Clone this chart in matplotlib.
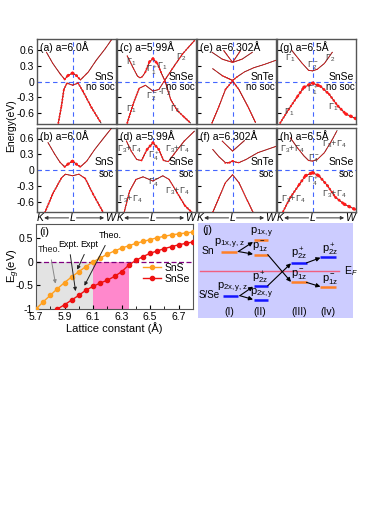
import matplotlib.pyplot as plt
import numpy as np
from matplotlib.collections import LineCollection

plt.rcParams['font.family'] = ['Liberation Sans', 'DejaVu Sans']
plt.rcParams['mathtext.fontset'] = 'custom'
plt.rcParams['mathtext.rm'] = 'Liberation Sans'
plt.rcParams['mathtext.it'] = 'Liberation Sans:italic'

KL = 0.45  # position of L between K (0) and W (1)

# ---- band data: k (0..1), E (eV), red weight ----
# (a) SnS a=6.0 no soc
a_c_k = [0.12, 0.20, 0.29, 0.35, 0.39, 0.45, 0.50, 0.55, 0.65, 0.75, 0.86, 0.94]
a_c_E = [0.55, 0.34, 0.15, 0.04, 0.11, 0.16, 0.11, 0.03, 0.18, 0.40, 0.61, 0.78]
a_c_w = [1.2, 1.2, 1.2, 2, 3.5, 4, 3.5, 2, 1.2, 1.2, 1.2, 1.2]
a_v_k = [0.27, 0.31, 0.34, 0.38, 0.45, 0.52, 0.58, 0.69, 0.81]
a_v_E = [-0.78, -0.46, -0.15, -0.03, -0.07, -0.03, -0.18, -0.49, -0.78]
a_v_w = [2.5, 2.5, 2.5, 2, 1.2, 2, 2.5, 2.5, 2.5]
# (b) SnS a=6.0 soc
b_c_k = [0.14, 0.225, 0.29, 0.35, 0.39, 0.45, 0.50, 0.55, 0.63, 0.73, 0.86, 0.94]
b_c_E = [0.52, 0.30, 0.15, 0.06, 0.11, 0.17, 0.11, 0.06, 0.17, 0.39, 0.64, 0.79]
b_c_w = [1.2, 1.2, 1.2, 2, 3.5, 4, 3.5, 2, 1.2, 1.2, 1.2, 1.2]
b_v_k = [0.10, 0.20, 0.31, 0.36, 0.45, 0.53, 0.61, 0.71, 0.85]
b_v_E = [-0.81, -0.45, -0.15, -0.08, -0.11, -0.08, -0.16, -0.46, -0.84]
b_v_w = [2.5, 2.5, 2, 1.5, 1.2, 1.5, 2, 2.5, 2.5]
# (c) SnSe a=5.99 no soc
c_c_k = [0.13, 0.21, 0.26, 0.29, 0.32, 0.36, 0.41, 0.455, 0.51, 0.57, 0.61, 0.68, 0.76, 0.85, 0.93]
c_c_E = [0.48, 0.24, 0.10, 0.07, 0.09, 0.18, 0.37, 0.43, 0.34, 0.13, 0.0, -0.34, -0.54, -0.67, -0.78]
c_c_w = [1.5, 1.5, 1.5, 1.5, 1.5, 2, 3, 4, 3, 2, 1.5, 2, 2, 2.5, 2.5]
c_v_k = [0.13, 0.21, 0.28, 0.36, 0.455, 0.53, 0.59, 0.70, 0.83, 0.98]
c_v_E = [-0.78, -0.40, -0.13, -0.07, -0.18, -0.15, -0.01, 0.24, 0.52, 0.77]
c_v_w = [2.5, 2.5, 2, 1.2, 1.2, 1.2, 1.5, 2, 2, 2]
# (d) SnSe a=5.99 soc
d_c_k = [0.12, 0.18, 0.25, 0.31, 0.38, 0.455, 0.53, 0.59, 0.65, 0.72, 0.85, 0.98]
d_c_E = [0.55, 0.36, 0.20, 0.18, 0.39, 0.52, 0.39, 0.18, 0.16, 0.30, 0.55, 0.74]
d_c_w = [1.5, 1.5, 1.5, 1.5, 3, 4, 3, 1.5, 1.5, 1.5, 1.5, 1.2]
d_v_k = [0.09, 0.16, 0.24, 0.33, 0.455, 0.58, 0.66, 0.76, 0.86, 0.97]
d_v_E = [-0.81, -0.40, -0.18, -0.13, -0.21, -0.11, -0.18, -0.43, -0.68, -0.84]
d_v_w = [2, 2, 1.5, 1.2, 1.2, 1.2, 1.5, 2, 2.5, 3]
# (e) SnTe a=6.302 no soc
e_c_k = [0.20, 0.32, 0.45, 0.51, 0.60, 0.72, 0.85, 1.0]
e_c_E = [0.24, 0.11, 0.02, 0.09, 0.18, 0.26, 0.32, 0.40]
e_c_w = [1.2, 1.2, 3, 1.2, 1.2, 1.2, 1.2, 1.2]
e_v_k = [0.19, 0.28, 0.36, 0.45, 0.53, 0.64, 0.74]
e_v_E = [-0.78, -0.46, -0.15, 0.01, -0.15, -0.46, -0.77]
e_v_w = [2, 2, 1.5, 3, 1.5, 2, 2]
e_p_k = [0.19, 0.32, 0.45, 0.57, 0.70]
e_p_E = [0.55, 0.42, 0.36, 0.42, 0.55]
e_p_w = [1, 1, 2, 1, 1]
e_x_k = [0.34, 0.45, 0.55]
e_x_E = [0.58, 0.36, 0.58]
e_x_w = [1, 2, 1]
# (f) SnTe a=6.302 soc
f_c_k = [0.20, 0.28, 0.36, 0.41, 0.45, 0.49, 0.53, 0.62, 0.77, 1.0]
f_c_E = [0.39, 0.25, 0.14, 0.14, 0.17, 0.15, 0.14, 0.20, 0.33, 0.45]
f_c_w = [1.2, 1.2, 1.5, 2.5, 3, 2.5, 1.5, 1.2, 1.2, 1.2]
f_v_k = [0.19, 0.28, 0.36, 0.45, 0.53, 0.64, 0.72]
f_v_E = [-0.84, -0.52, -0.24, -0.09, -0.24, -0.59, -0.84]
f_v_w = [2, 2, 1.5, 1.2, 1.5, 2, 2]
f_x_k = [0.32, 0.45, 0.60]
f_x_E = [0.55, 0.36, 0.56]
f_x_w = [1, 1.5, 1]
# (g) SnSe a=6.5 no soc
g_c_k = [0.19, 0.26, 0.32, 0.40, 0.45, 0.51, 0.60, 0.70]
g_c_E = [0.58, 0.45, 0.34, 0.21, 0.20, 0.23, 0.34, 0.55]
g_c_w = [1.2, 1.2, 1.2, 1.2, 1.5, 1.2, 1.2, 1.2]
g_v_k = [0.04, 0.15, 0.26, 0.34, 0.45, 0.55, 0.66, 0.77, 0.87, 1.0]
g_v_E = [-0.78, -0.52, -0.28, -0.11, -0.03, -0.09, -0.24, -0.46, -0.61, -0.70]
g_v_w = [2.5, 2.5, 3, 4, 4.5, 4, 3, 3, 4, 4.5]
# (h) SnSe a=6.5 soc
h_c_k = [0.17, 0.26, 0.34, 0.40, 0.45, 0.51, 0.60, 0.70, 0.76]
h_c_E = [0.61, 0.42, 0.27, 0.18, 0.17, 0.20, 0.33, 0.58, 0.75]
h_c_w = [1.2, 1.2, 1.2, 1.2, 1.5, 1.2, 1.2, 1.2, 1.2]
h_v_k = [0.06, 0.17, 0.28, 0.36, 0.45, 0.53, 0.64, 0.74, 0.85, 1.0]
h_v_E = [-0.84, -0.52, -0.28, -0.11, -0.05, -0.11, -0.30, -0.52, -0.65, -0.76]
h_v_w = [2.5, 2.5, 3, 4, 4.5, 4, 3, 3, 4, 4.5]

# ---- band gap vs lattice constant ----
sns_a = [5.70, 5.75, 5.80, 5.85, 5.90, 5.95, 6.00, 6.05, 6.10, 6.15, 6.20, 6.25,
         6.30, 6.35, 6.40, 6.45, 6.50, 6.55, 6.60, 6.65, 6.70, 6.75, 6.80]
sns_eg = [-1.00, -0.85, -0.71, -0.57, -0.44, -0.32, -0.21, -0.10, 0.00, 0.08, 0.16, 0.23,
          0.29, 0.34, 0.39, 0.43, 0.47, 0.51, 0.54, 0.57, 0.59, 0.61, 0.63]
snse_a = [5.85, 5.90, 5.95, 6.00, 6.05, 6.10, 6.15, 6.20, 6.25, 6.30, 6.35, 6.40,
          6.45, 6.50, 6.55, 6.60, 6.65, 6.70, 6.75, 6.80]
snse_eg = [-1.00, -0.91, -0.81, -0.71, -0.60, -0.52, -0.45, -0.39, -0.31, -0.21, -0.07, 0.03,
           0.11, 0.18, 0.23, 0.28, 0.32, 0.36, 0.39, 0.42]

panels = [
    ('(a) a=6.0Å', 'SnS', 'no soc', [(a_c_k, a_c_E, a_c_w), (a_v_k, a_v_E, a_v_w)]),
    ('(c) a=5.99Å', 'SnSe', 'no soc', [(c_c_k, c_c_E, c_c_w), (c_v_k, c_v_E, c_v_w)]),
    ('(e) a=6.302Å', 'SnTe', 'no soc', [(e_p_k, e_p_E, e_p_w), (e_x_k, e_x_E, e_x_w),
                                       (e_c_k, e_c_E, e_c_w), (e_v_k, e_v_E, e_v_w)]),
    ('(g) a=6.5Å', 'SnSe', 'no soc', [(g_c_k, g_c_E, g_c_w), (g_v_k, g_v_E, g_v_w)]),
    ('(b) a=6.0Å', 'SnS', 'soc', [(b_c_k, b_c_E, b_c_w), (b_v_k, b_v_E, b_v_w)]),
    ('(d) a=5.99Å', 'SnSe', 'soc', [(d_c_k, d_c_E, d_c_w), (d_v_k, d_v_E, d_v_w)]),
    ('(f) a=6.302Å', 'SnTe', 'soc', [(f_x_k, f_x_E, f_x_w), (f_c_k, f_c_E, f_c_w),
                                    (f_v_k, f_v_E, f_v_w)]),
    ('(h) a=6.5Å', 'SnSe', 'soc', [(h_c_k, h_c_E, h_c_w), (h_v_k, h_v_E, h_v_w)]),
]

gam_labels = {
    1: [(0.185, 0.37, r'$\Gamma_1$'), (0.44, 0.21, r'$\Gamma_1^+$'), (0.57, 0.28, r'$\Gamma_1$'),
        (0.81, 0.46, r'$\Gamma_2$'), (0.44, -0.28, r'$\Gamma_2^-$'), (0.60, -0.21, r'-$\Gamma_2$'),
        (0.185, -0.52, r'$\Gamma_1$'), (0.74, -0.52, r'$\Gamma_1$')],
    3: [(0.17, 0.43, r'$\Gamma_1$'), (0.45, 0.30, r'$\Gamma_2^-$'), (0.67, 0.43, r'$\Gamma_2$'),
        (0.45, -0.15, r'$\Gamma_1^+$'), (0.15, -0.58, r'$\Gamma_1$'), (0.71, -0.49, r'$\Gamma_1$')],
    5: [(0.15, 0.39, r'$\Gamma_3$+$\Gamma_4$'), (0.46, 0.27, r'$\Gamma_4^+$'),
        (0.76, 0.39, r'$\Gamma_3$+$\Gamma_4$'), (0.46, -0.25, r'$\Gamma_4^-$'),
        (0.17, -0.56, r'$\Gamma_3$+$\Gamma_4$'), (0.76, -0.40, r'$\Gamma_3$+$\Gamma_4$')],
    7: [(0.19, 0.39, r'$\Gamma_3$+$\Gamma_4$'), (0.72, 0.49, r'$\Gamma_3$+$\Gamma_4$'),
        (0.46, 0.21, r'$\Gamma_4^-$'), (0.45, -0.21, r'$\Gamma_4^+$'),
        (0.73, -0.46, r'$\Gamma_3$+$\Gamma_4$'), (0.21, -0.56, r'$\Gamma_3$+$\Gamma_4$')],
}

fig = plt.figure(figsize=(3.74, 5.28), dpi=100)

lefts = [37, 117, 197, 277]
W, H = 374, 528


def draw_band(ax, k, E, w):
    ax.plot(k, E, color='#3a1010', lw=0.6, zorder=3)
    pts = np.column_stack([k, E])
    segs = np.stack([pts[:-1], pts[1:]], axis=1)
    lws = [0.55 * (w[i] + w[i + 1]) / 2 for i in range(len(w) - 1)]
    lc = LineCollection(segs, colors='#ff1a1a', linewidths=lws,
                        linestyles=[(0, (0.3, 1.3))], capstyle='round', zorder=4)
    ax.add_collection(lc)


for i, (title, mat, soc, bands) in enumerate(panels):
    row, col = divmod(i, 4)
    top = 39 if row == 0 else 128
    bot = 124 if row == 0 else 212
    ax = fig.add_axes([lefts[col] / W, 1 - bot / H, 79 / W, (bot - top) / H])
    ax.set_xlim(0, 1)
    ax.set_ylim(-0.8, 0.8)
    ax.axvline(KL, color='#4466ff', ls=(0, (4, 3)), lw=0.8, zorder=2)
    ax.axhline(0, color='#4466ff', ls=(0, (4, 3)), lw=0.8, zorder=2)
    for k, E, w in bands:
        draw_band(ax, k, E, w)
    ax.set_xticks([])
    ax.set_yticks([-0.6, -0.3, 0, 0.3, 0.6])
    ax.tick_params(axis='y', direction='in', length=3, width=0.8, labelsize=7.5, pad=2)
    if col == 0:
        ax.set_yticklabels(['-0.6', '-0.3', '0', '0.3', '0.6'])
    else:
        ax.set_yticklabels([])
    for s in ax.spines.values():
        s.set_color('#555555')
        s.set_linewidth(1.0)
    ax.text(0.04, 0.97, title, transform=ax.transAxes, va='top', ha='left', fontsize=7.5)
    ax.text(0.98, 0.55 if row == 0 else 0.60, mat, transform=ax.transAxes,
            ha='right', va='center', fontsize=7.5, zorder=6)
    ax.text(0.98, 0.44 if row == 0 else 0.45, soc, transform=ax.transAxes,
            ha='right', va='center', fontsize=7, zorder=6)
    for x, y, t in gam_labels.get(i, []):
        ax.text(x, y, t, ha='center', va='center', fontsize=6.5, color='#444444', zorder=6)
    if row == 1:
        ax.text(0.04, -0.07, 'K', transform=ax.transAxes, ha='center', va='center',
                fontsize=7.5, style='italic')
        ax.text(KL, -0.07, 'L', transform=ax.transAxes, ha='center', va='center',
                fontsize=7.5, style='italic')
        ax.text(0.92, -0.07, 'W', transform=ax.transAxes, ha='center', va='center',
                fontsize=7.5, style='italic')
        ax.annotate('', xy=(0.09, -0.07), xytext=(KL - 0.05, -0.07), xycoords='axes fraction',
                    arrowprops=dict(arrowstyle='-|>', lw=0.7, color='#333', mutation_scale=5,
                                    shrinkA=0, shrinkB=0))
        ax.annotate('', xy=(0.85, -0.07), xytext=(KL + 0.05, -0.07), xycoords='axes fraction',
                    arrowprops=dict(arrowstyle='-|>', lw=0.7, color='#333', mutation_scale=5,
                                    shrinkA=0, shrinkB=0))

fig.text(0.03, 1 - 126 / H, 'Energy(eV)', rotation=90, ha='center', va='center', fontsize=7.5)

# ---- panel (i) ----
axi = fig.add_axes([36 / W, 1 - 309 / H, 157 / W, 85 / H])
axi.axvspan(5.7, 6.1, ymin=0, ymax=1 / 1.8, color='#e3e3e3', lw=0, zorder=0)
axi.axvspan(6.1, 6.35, ymin=0, ymax=1 / 1.8, color='#ff88cc', lw=0, zorder=0)
axi.axhline(0, color='#800080', ls=(0, (4, 2)), lw=0.9, zorder=1)
axi.plot(sns_a, sns_eg, '-o', color='#ffa020', ms=3, lw=1, label='SnS', zorder=3)
axi.plot(snse_a, snse_eg, '-o', color='#ee1111', ms=3, lw=1, label='SnSe', zorder=3)
axi.set_xlim(5.7, 6.8)
axi.set_ylim(-1, 0.8)
axi.set_xticks([5.7, 5.9, 6.1, 6.3, 6.5, 6.7])
axi.set_xticks(np.arange(5.8, 6.8, 0.2), minor=True)
axi.set_yticks([-1, -0.5, 0, 0.5])
axi.set_yticklabels(['-1', '-0.5', '0', '0.5'])
axi.tick_params(direction='in', labelsize=7.5, length=3, pad=2)
axi.tick_params(which='minor', direction='in', length=2)
axi.set_xlabel('Lattice constant (Å)', fontsize=8, labelpad=0)
for s in axi.spines.values():
    s.set_color('#555555')
fig.text(14 / W, 1 - 266 / H, 'E$_g$(eV)', rotation=90, ha='center', va='center', fontsize=8)
axi.text(0.02, 0.97, '(i)', transform=axi.transAxes, va='top', fontsize=8)
arr = dict(arrowstyle='-|>', lw=0.7, mutation_scale=5)
axi.annotate('Theo.', xy=(5.84, -0.52), xytext=(5.795, 0.20), fontsize=6.5, ha='center',
             color='#222', arrowprops=dict(arr, color='#888888'))
axi.annotate('Expt.', xy=(5.98, -0.68), xytext=(5.93, 0.31), fontsize=6.5, ha='center',
             arrowprops=dict(arr, color='#222'))
axi.annotate('Expt', xy=(5.98, -0.22), xytext=(6.07, 0.31), fontsize=6.5, ha='center',
             arrowprops=dict(arr, color='#222'))
axi.annotate('Theo.', xy=(6.03, -0.56), xytext=(6.22, 0.50), fontsize=6.5, ha='center',
             arrowprops=dict(arr, color='#222'))
axi.legend(loc='center right', bbox_to_anchor=(1.02, 0.42), fontsize=7.5, frameon=False,
           handlelength=1.8, borderaxespad=0.2, labelspacing=0.1, handletextpad=0.3)

# ---- panel (j) ----
axj = fig.add_axes([198 / W, 1 - 318 / H, 155 / W, 95 / H])
axj.set_facecolor('#ccccff')
axj.set_xlim(0, 1)
axj.set_ylim(0, 1)
axj.set_xticks([])
axj.set_yticks([])
for s in axj.spines.values():
    s.set_visible(False)
OR, BL = '#ff7f27', '#1414ff'
levels = [
    (0.15, 0.25, 0.70, OR, r'$\mathregular{p_{1x,y,z}}$', 0.20, 0.78),
    (0.16, 0.26, 0.235, BL, r'$\mathregular{p_{2x,y,z}}$', 0.22, 0.32),
    (0.36, 0.45, 0.82, OR, r'$\mathregular{p_{1x,y}}$', 0.41, 0.90),
    (0.36, 0.45, 0.667, OR, r'$\mathregular{p^-_{1z}}$', 0.40, 0.75),
    (0.36, 0.45, 0.34, BL, r'$\mathregular{p^+_{2z}}$', 0.40, 0.42),
    (0.36, 0.45, 0.19, BL, r'$\mathregular{p_{2x,y}}$', 0.41, 0.255),
    (0.60, 0.70, 0.58, BL, r'$\mathregular{p^+_{2z}}$', 0.65, 0.67),
    (0.60, 0.70, 0.375, OR, r'$\mathregular{p^-_{1z}}$', 0.65, 0.45),
    (0.79, 0.89, 0.64, BL, r'$\mathregular{p^+_{2z}}$', 0.85, 0.72),
    (0.79, 0.89, 0.326, OR, r'$\mathregular{p^-_{1z}}$', 0.85, 0.40),
]
for x0, x1, y, c, lab, lx, ly in levels:
    axj.plot([x0, x1], [y, y], color=c, lw=1.8, solid_capstyle='butt')
    axj.text(lx, ly, lab, ha='center', va='center', fontsize=8)
arrows = [((0.26, 0.70), (0.355, 0.80)), ((0.26, 0.70), (0.355, 0.672)),
          ((0.27, 0.235), (0.355, 0.33)), ((0.27, 0.235), (0.355, 0.195)),
          ((0.45, 0.667), (0.60, 0.38)), ((0.45, 0.34), (0.60, 0.575)),
          ((0.70, 0.58), (0.79, 0.635)), ((0.70, 0.375), (0.79, 0.33))]
for (xs, ys), (xe, ye) in arrows:
    axj.annotate('', xy=(xe, ye), xytext=(xs, ys),
                 arrowprops=dict(arrowstyle='-|>', lw=0.8, color='k', mutation_scale=6,
                                 shrinkA=0, shrinkB=0))
axj.plot([0.01, 0.91], [0.5, 0.5], color='#f06080', lw=1.0)
axj.text(0.94, 0.49, 'E$_F$', fontsize=7.5, va='center')
axj.text(0.03, 0.93, '(j)', fontsize=8, va='center')
axj.text(0.02, 0.70, 'Sn', fontsize=7.5, va='center')
axj.text(0.005, 0.245, 'S/Se', fontsize=7, va='center')
for x, t in [(0.20, '(I)'), (0.40, '(II)'), (0.65, '(III)'), (0.84, '(Iv)')]:
    axj.text(x, 0.06, t, fontsize=7.5, ha='center', va='center')

fig.savefig('out.png', dpi=100)
